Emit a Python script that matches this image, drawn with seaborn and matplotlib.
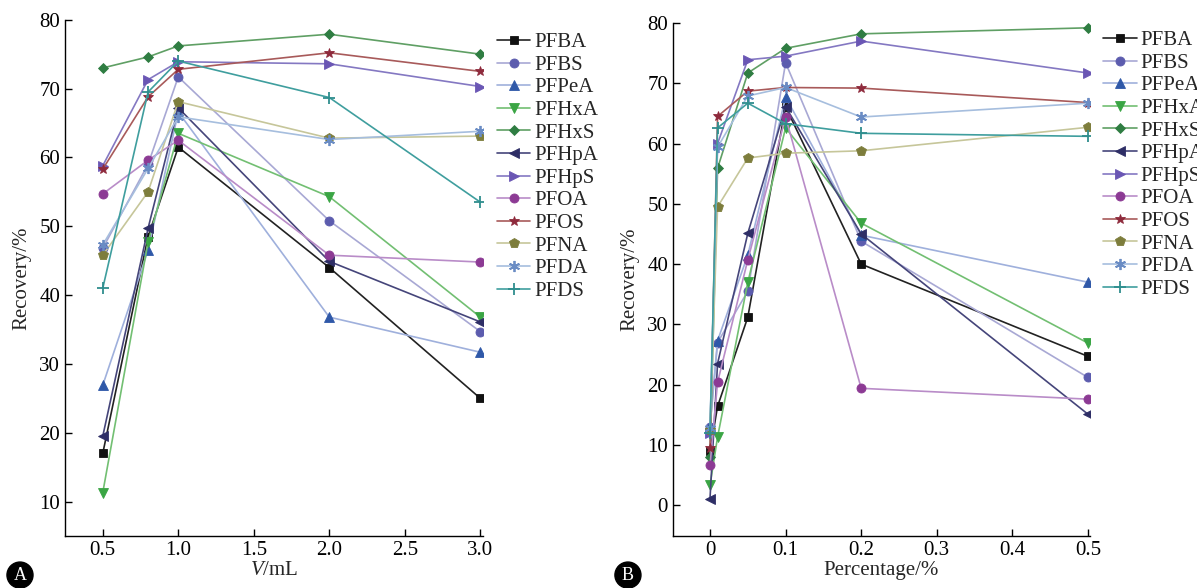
import matplotlib
matplotlib.use('Agg')

import pandas as pd
import matplotlib.pyplot as plt
import seaborn as sns

import numpy as np

# compounds, in legend order
compounds = ['PFBA', 'PFBS', 'PFPeA', 'PFHxA', 'PFHxS', 'PFHpA',
             'PFHpS', 'PFOA', 'PFOS', 'PFNA', 'PFDA', 'PFDS']

# panel A: eluent volume (mL)
volume_ml = [0.5, 0.8, 1.0, 2.0, 3.0]
rec_volume = {
    'PFBA':  [17.0, 48.5, 61.5, 44.0, 25.0],
    'PFBS':  [46.8, 59.0, 71.7, 50.8, 34.7],
    'PFPeA': [26.9, 46.5, 66.6, 36.8, 31.7],
    'PFHxA': [11.3, 47.7, 63.5, 54.3, 36.8],
    'PFHxS': [73.0, 74.6, 76.2, 77.9, 75.0],
    'PFHpA': [19.5, 49.7, 67.2, 44.9, 36.1],
    'PFHpS': [58.8, 71.3, 73.9, 73.6, 70.3],
    'PFOA':  [54.7, 59.6, 62.5, 45.8, 44.8],
    'PFOS':  [58.3, 68.8, 72.8, 75.2, 72.5],
    'PFNA':  [45.8, 55.0, 68.1, 62.8, 63.1],
    'PFDA':  [47.3, 58.4, 65.9, 62.6, 63.8],
    'PFDS':  [41.0, 69.5, 74.0, 68.7, 53.5],
}

# panel B: percentage (%)
percentage = [0, 0.01, 0.05, 0.1, 0.2, 0.5]
rec_pct = {
    'PFBA':  [9.0, 16.4, 31.2, 66.1, 40.0, 24.7],
    'PFBS':  [13.0, 27.0, 35.5, 73.4, 43.8, 21.2],
    'PFPeA': [13.2, 27.3, 41.5, 67.7, 44.8, 37.0],
    'PFHxA': [3.3, 11.3, 37.0, 62.6, 46.8, 26.9],
    'PFHxS': [8.0, 55.9, 71.7, 75.8, 78.2, 79.2],
    'PFHpA': [1.1, 23.5, 45.1, 66.1, 45.0, 15.1],
    'PFHpS': [12.0, 60.0, 73.9, 74.5, 77.0, 71.7],
    'PFOA':  [6.6, 20.4, 40.7, 64.4, 19.4, 17.6],
    'PFOS':  [9.5, 64.5, 68.7, 69.3, 69.2, 66.8],
    'PFNA':  [12.5, 49.5, 57.6, 58.4, 58.8, 62.7],
    'PFDA':  [12.8, 59.4, 67.9, 69.3, 64.4, 66.7],
    'PFDS':  [12.0, 62.6, 66.7, 63.3, 61.7, 61.2],
}

# line colour, marker colour, marker, marker size
styles = {
    'PFBA':  ('#222222', '#111111', 's', 5.5),
    'PFBS':  ('#a8a8d4', '#5c5cae', 'o', 6.5),
    'PFPeA': ('#9fb0dc', '#2f58a8', '^', 6.5),
    'PFHxA': ('#72bf72', '#3aa544', 'v', 6.5),
    'PFHxS': ('#5f9f64', '#2f7d42', 'D', 5.5),
    'PFHpA': ('#45457a', '#2e2e66', '<', 6.5),
    'PFHpS': ('#8478c2', '#6a56b4', '>', 6.5),
    'PFOA':  ('#b98cc8', '#8c3a94', 'o', 6.5),
    'PFOS':  ('#a85a5a', '#8e2a3c', '*', 7.5),
    'PFNA':  ('#c6c69a', '#7d7d3c', 'p', 7.0),
    'PFDA':  ('#a6bede', '#6a8cc4', (6, 2, 0), 8.0),
    'PFDS':  ('#3f9e9e', '#2f8e8e', '+', 8.0),
}

sns.set_style('ticks')
plt.rcParams['font.family'] = ['Liberation Serif', 'DejaVu Serif']
plt.rcParams['mathtext.fontset'] = 'custom'
plt.rcParams['mathtext.it'] = 'Liberation Serif:italic'
plt.rcParams['mathtext.rm'] = 'Liberation Serif'
FS = 15


def draw_panel(ax, xvals, recs, leg_anchor):
	for name in compounds:
		lc, mc, mk, ms = styles[name]
		df = pd.DataFrame({'x': xvals, 'y': recs[name]})
		filled = mk not in ('+', (6, 2, 0))
		sns.lineplot(data=df, x='x', y='y', ax=ax, color=lc, lw=1.2,
		             marker=mk, markersize=ms, markerfacecolor=mc,
		             markeredgecolor=mc, markeredgewidth=0.6 if filled else 1.3,
		             legend=False, estimator=None, sort=False)
	sns.despine(ax=ax)
	ax.tick_params(direction='in', length=5, width=1, labelsize=FS, colors='black')
	for s in ['left', 'bottom']:
		ax.spines[s].set_linewidth(1.0)
		ax.spines[s].set_color('black')
	ax.set_ylabel('Recovery/%', fontsize=FS, labelpad=6)
	leg = ax.legend(ax.get_lines(), compounds, frameon=False, loc='upper left',
	                bbox_to_anchor=leg_anchor, borderaxespad=0, borderpad=0,
	                handlelength=1.6, handletextpad=0.2, labelspacing=0.145,
	                fontsize=FS)
	return leg


fig = plt.figure(figsize=(11.97, 5.88), dpi=100)
axA = fig.add_axes([0.0543, 0.0884, 0.3495, 0.878])
axB = fig.add_axes([0.5622, 0.0884, 0.3480, 0.8725])

draw_panel(axA, volume_ml, rec_volume, (1.033, 0.975))
axA.set_xlim(0.25, 3.02)
axA.set_ylim(5, 80)
axA.set_xticks([0.5, 1.0, 1.5, 2.0, 2.5, 3.0])
axA.set_xticklabels(['0.5', '1.0', '1.5', '2.0', '2.5', '3.0'])
axA.set_yticks(np.arange(10, 81, 10))
axA.set_xlabel('$V$/mL', fontsize=FS, labelpad=1)

draw_panel(axB, percentage, rec_pct, (1.033, 0.985))
axB.set_xlim(-0.049, 0.502)
axB.set_ylim(-5.1, 80)
axB.set_xticks([0, 0.1, 0.2, 0.3, 0.4, 0.5])
axB.set_xticklabels(['0', '0.1', '0.2', '0.3', '0.4', '0.5'])
axB.set_yticks(np.arange(0, 81, 10))
axB.set_xlabel('Percentage/%', fontsize=FS, labelpad=1)

for lab, x in [('A', 0.0167), ('B', 0.5246)]:
	fig.text(x, 0.022, lab, color='white', fontsize=13, ha='center', va='center',
	         bbox=dict(boxstyle='circle,pad=0.25', fc='black', ec='black'))

fig.savefig('out.png', dpi=100)
